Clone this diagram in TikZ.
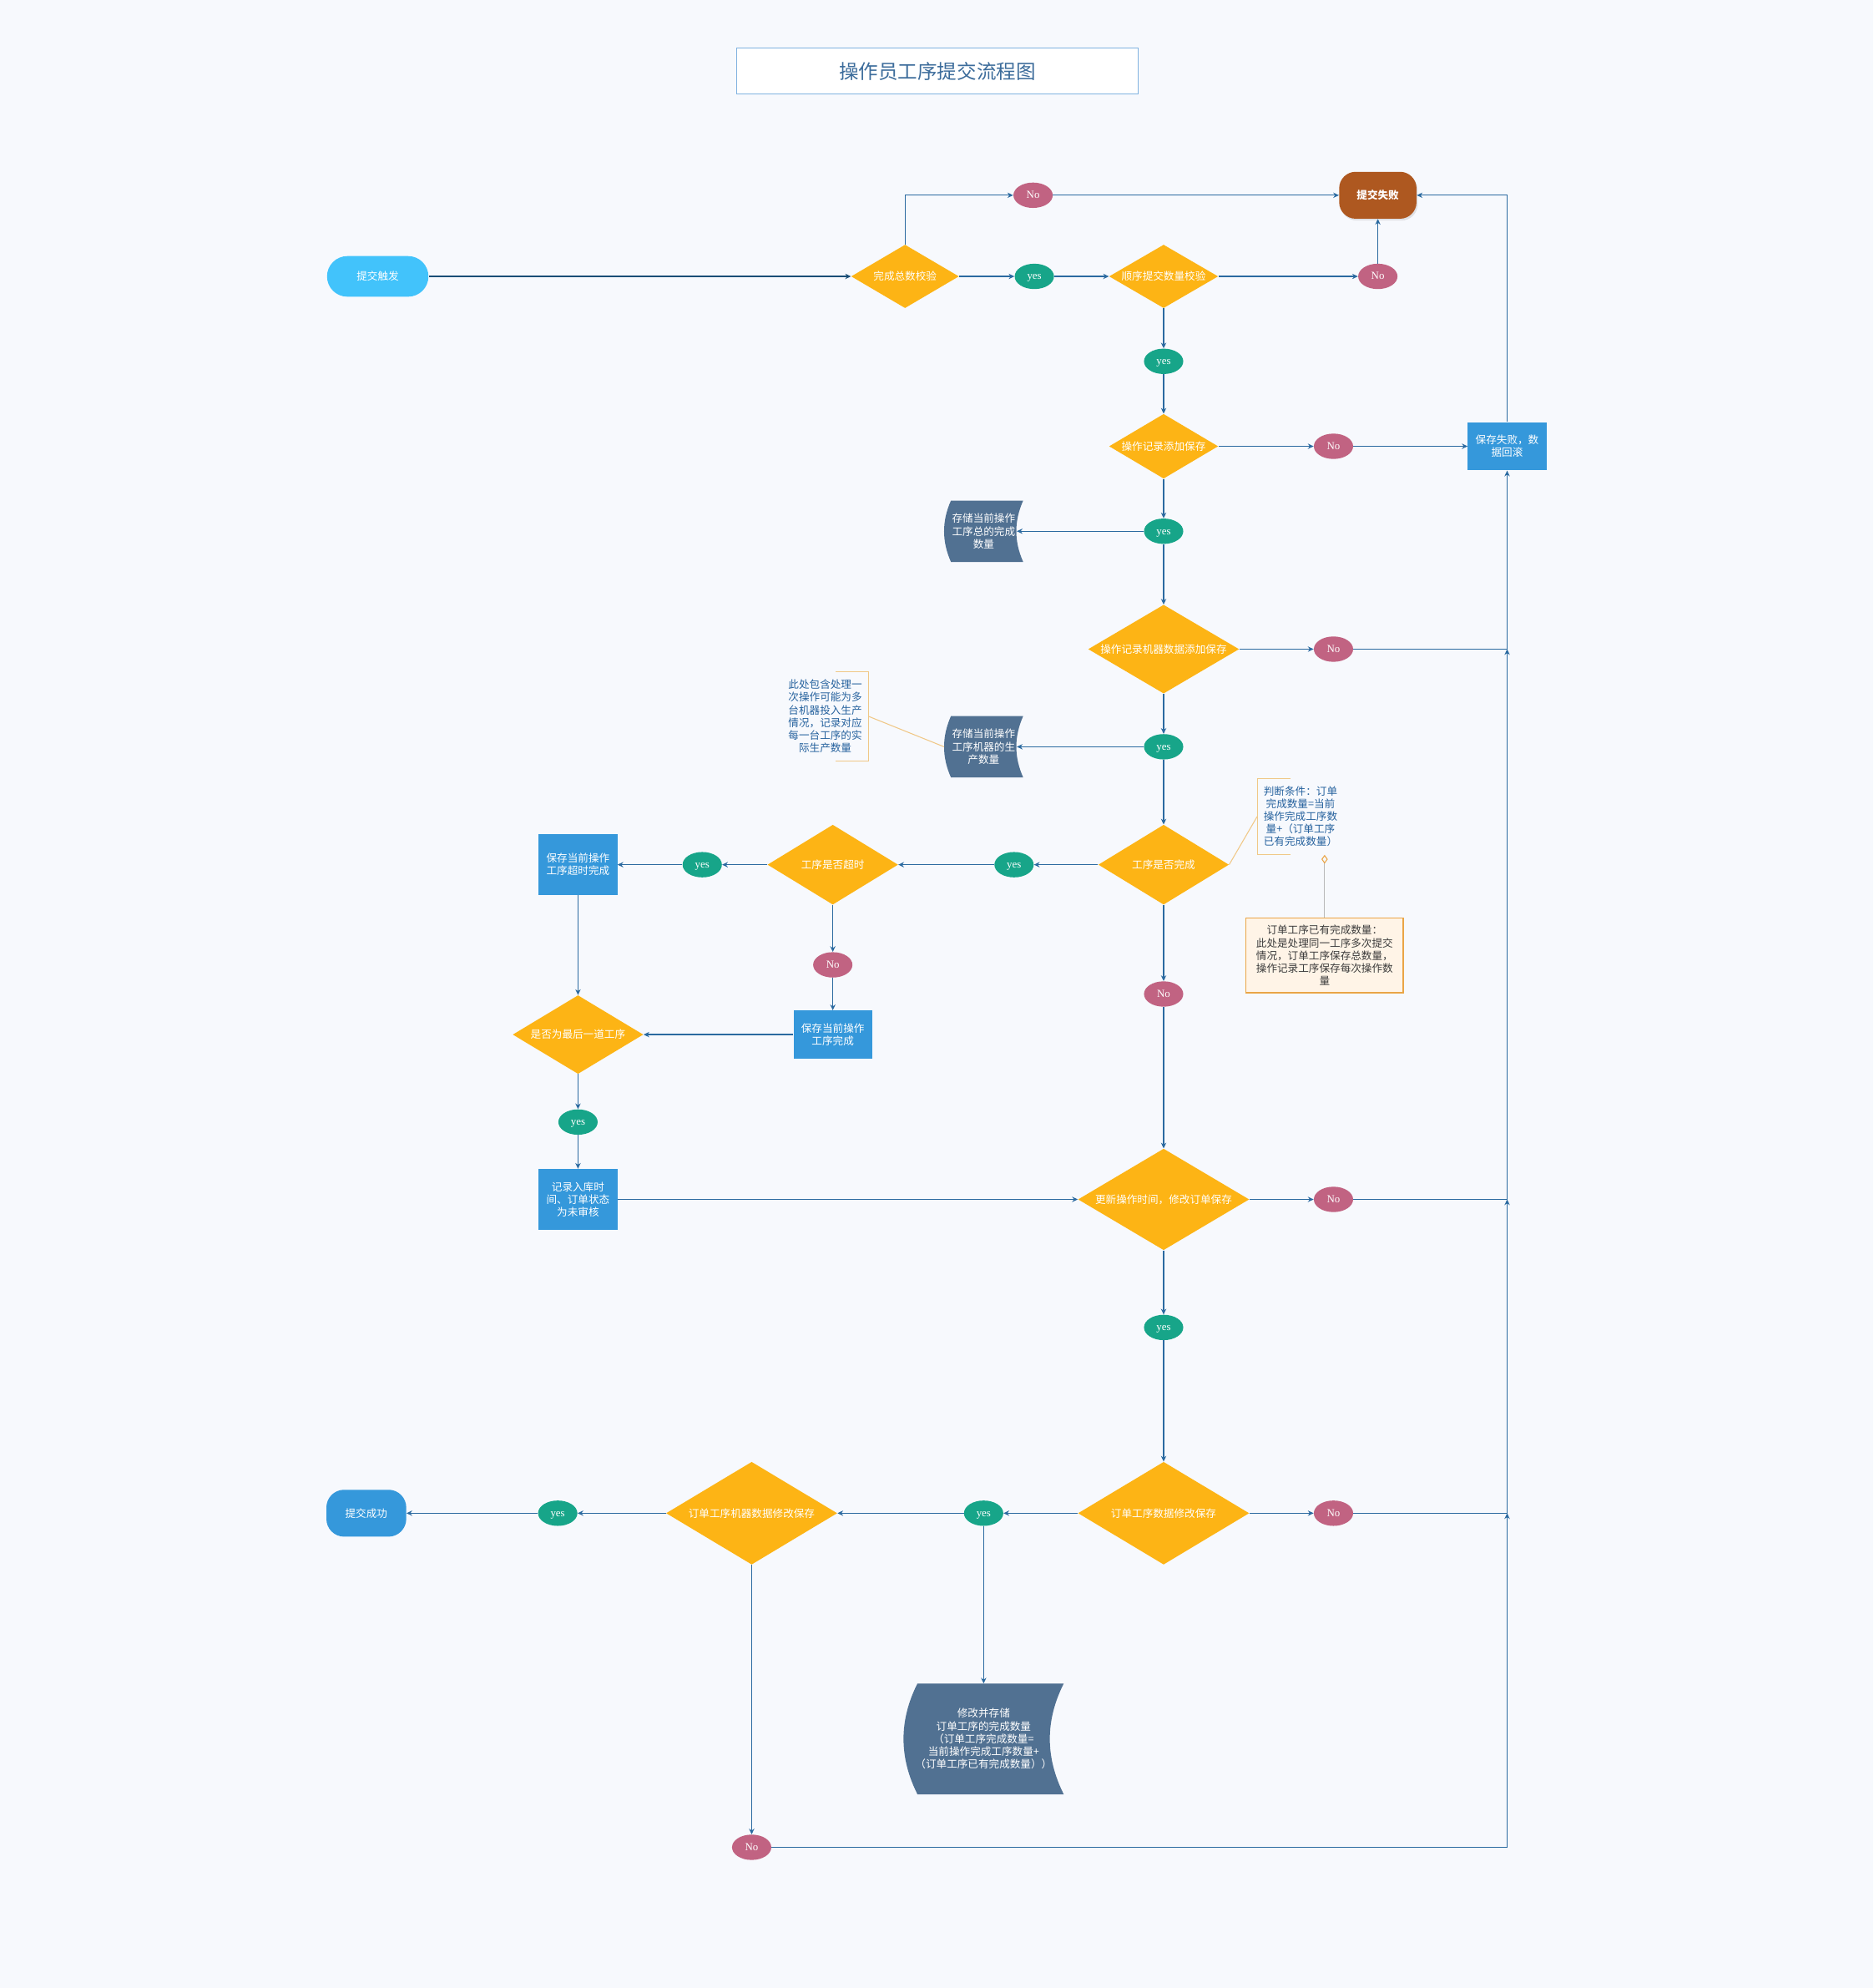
\documentclass[tikz,border=0pt]{standalone}
\usepackage{fontspec}
\setmainfont{Noto Sans CJK SC}
\newfontfamily\latinfont{Liberation Serif}
\usepackage{tikz}
\usetikzlibrary{shapes.geometric,arrows.meta,backgrounds,shadows,calc}
\tikzset{
  ftitle/.style={rectangle, draw=titleline, fill=white, line width=0.8pt, minimum width=317pt, minimum height=36pt, text=titletext, font=\fontsize{15.5}{18}\selectfont},
  fterm/.style={rectangle, rounded corners=16pt, fill=startblue, text=white, minimum width=80pt, minimum height=32pt, inner sep=0pt, font=\fontsize{8.3}{10}\selectfont},
  fdec/.style={diamond, aspect=1.7, fill=decyellow, text=white, inner sep=0pt, font=\fontsize{8.3}{10}\selectfont},
  fyes/.style={ellipse, fill=yesgreen, text=white, minimum width=31pt, minimum height=20pt, inner sep=0pt, text height=5.6pt, text depth=0.6pt, font=\latinfont\fontsize{8.5}{10}\selectfont},
  fno/.style={fyes, fill=nored},
  fbox/.style={rectangle, fill=boxblue, text=white, minimum width=62pt, inner sep=1pt, align=center, font=\fontsize{8.3}{10}\selectfont},
  fstore/.style={rectangle, minimum width=62pt, minimum height=48pt, inner sep=1pt, align=center, text=white, font=\fontsize{8.3}{10}\selectfont},
  fnote/.style={rectangle, text width=62pt, inner xsep=3pt, inner ysep=0pt, align=center, text=notetext, font=\fontsize{8.3}{10}\selectfont},
  farrow/.style={-{Stealth[length=4.5pt,width=4.2pt]}, line width=0.8pt, draw=linkblue},
  nline/.style={line width=0.7pt, draw=notetan}
}
\definecolor{bgpage}{RGB}{247,249,253}
\definecolor{titleline}{RGB}{128,178,224}
\definecolor{titletext}{RGB}{60,108,155}
\definecolor{startblue}{RGB}{66,195,251}
\definecolor{decyellow}{RGB}{253,180,21}
\definecolor{yesgreen}{RGB}{23,165,137}
\definecolor{nored}{RGB}{193,99,130}
\definecolor{boxblue}{RGB}{53,152,219}
\definecolor{storeblue}{RGB}{81,113,146}
\definecolor{failbrown}{RGB}{174,88,32}
\definecolor{linkblue}{RGB}{43,106,160}
\definecolor{linkdark}{RGB}{26,78,118}
\definecolor{notetan}{RGB}{240,200,135}
\definecolor{notetext}{RGB}{38,98,158}
\definecolor{notefill}{RGB}{255,244,231}
\definecolor{noteorange}{RGB}{234,165,70}
\definecolor{notegray}{RGB}{60,60,60}

\begin{document}
\begin{tikzpicture}[x=1pt,y=-1pt]
\useasboundingbox (0,0) rectangle (1478,1568);
\node[ftitle] (title) at (739.5,56) {操作员工序提交流程图};
\node[fterm] (start) at (298,218) {提交触发};
\node[fdec, minimum width=85pt, minimum height=50pt] (check1) at (714,218) {完成总数校验};
\node[fyes] (yes1) at (816,218) {yes};
\node[fdec, minimum width=86pt, minimum height=50pt] (check2) at (918,218) {顺序提交数量校验};
\node[fno] (no2) at (1087,218) {No};
\node[fterm, fill=failbrown, rounded corners=13pt, minimum width=61pt, minimum height=37pt, font=\fontsize{8.3}{10}\selectfont\bfseries, drop shadow={opacity=0.2, shadow xshift=1pt, shadow yshift=-1.5pt}] (fail) at (1087,154) {提交失败};
\node[fno] (noTop) at (815,154) {No};
\node[fyes] (yes2) at (918,285) {yes};
\node[fdec, minimum width=86pt, minimum height=51pt] (save1) at (918,352) {操作记录添加保存};
\node[fno] (no3) at (1052,352) {No};
\node[fbox, minimum height=38pt] (rollback) at (1189,352) {保存失败，数\\据回滚};
\node[fyes] (yes3) at (918,419) {yes};
\node[fstore] (store1) at (776,419) {存储当前操作\\工序总的完成\\数量};
\node[fdec, minimum width=119pt, minimum height=70pt] (save2) at (918,512) {操作记录机器数据添加保存};
\node[fno] (no4) at (1052,512) {No};
\node[fyes] (yes4) at (918,589) {yes};
\node[fstore] (store2) at (776,589) {存储当前操作\\工序机器的生\\产数量};
\node[fnote, minimum height=70pt] (note1) at (651,565) {此处包含处理一\\次操作可能为多\\台机器投入生产\\情况，记录对应\\每一台工序的实\\际生产数量};
\node[fdec, minimum width=103pt, minimum height=63pt] (done) at (918,682) {工序是否完成};
\node[fnote, minimum height=60pt] (note2) at (1026,644) {判断条件：订单\\完成数量=当前\\操作完成工序数\\量+（订单工序\\已有完成数量）};
\node[fnote, draw=noteorange, fill=notefill, text=notegray, line width=0.8pt, text width=118pt, minimum height=59pt] (note3) at (1045,753.5) {订单工序已有完成数量：\\此处是处理同一工序多次提交\\情况，订单工序保存总数量，\\操作记录工序保存每次操作数\\量};
\node[fyes] (yes5) at (800,682) {yes};
\node[fdec, minimum width=103pt, minimum height=63pt] (timeout) at (657,682) {工序是否超时};
\node[fyes] (yes6) at (554,682) {yes};
\node[fbox, minimum height=48pt] (boxTimeout) at (456,682) {保存当前操作\\工序超时完成};
\node[fno] (no5) at (657,761) {No};
\node[fbox, minimum height=38pt] (boxDone) at (657,816) {保存当前操作\\工序完成};
\node[fdec, minimum width=103pt, minimum height=62pt] (last) at (456,816) {是否为最后一道工序};
\node[fyes] (yes7) at (456,885) {yes};
\node[fbox, minimum height=48pt] (boxRecord) at (456,946) {记录入库时\\间、订单状态\\为未审核};
\node[fno] (no6) at (918,784) {No};
\node[fdec, minimum width=135pt, minimum height=80pt] (update) at (918,946) {更新操作时间，修改订单保存};
\node[fno] (no7) at (1052,946) {No};
\node[fyes] (yes8) at (918,1047) {yes};
\node[fdec, minimum width=135pt, minimum height=81pt] (orderSave) at (918,1193.5) {订单工序数据修改保存};
\node[fno] (no8) at (1052,1193.5) {No};
\node[fyes] (yes9) at (776,1193.5) {yes};
\node[fdec, minimum width=135pt, minimum height=81pt] (machineSave) at (593,1193.5) {订单工序机器数据修改保存};
\node[fyes] (yes10) at (440,1193.5) {yes};
\node[fterm, fill=boxblue, rounded corners=14pt, minimum width=63pt, minimum height=37pt] (success) at (289,1193.5) {提交成功};
\node[fstore, minimum width=126pt, minimum height=87pt] (store3) at (776,1371.5) {修改并存储\\订单工序的完成数量\\（订单工序完成数量=\\当前操作完成工序数量+\\（订单工序已有完成数量））};
\node[fno] (noB) at (593,1457) {No};
\coordinate (j1) at (rollback |- no4);
\coordinate (j2) at (rollback |- no7);
\coordinate (j3) at (rollback |- no8);
\coordinate (j4) at (rollback |- noB);
\draw[farrow, draw=linkdark, line width=1.2pt] (start) -- (check1);
\draw[farrow] (check1) -- (yes1);
\draw[farrow] (yes1) -- (check2);
\draw[farrow] (check1.north) |- (noTop);
\draw[farrow] (noTop) -- (fail);
\draw[farrow] (check2) -- (no2);
\draw[farrow] (no2) -- (fail);
\draw[farrow] (rollback.north) |- (fail.east);
\draw[farrow] (check2) -- (yes2);
\draw[farrow] (yes2) -- (save1);
\draw[farrow] (save1) -- (no3);
\draw[farrow] (no3) -- (rollback);
\draw[farrow] (save1) -- (yes3);
\draw[farrow] (yes3) -- ([xshift=-5pt]store1.east);
\draw[farrow] (yes3) -- (save2);
\draw[farrow] (save2) -- (no4);
\draw[farrow] (no4) -- (j1) -- (rollback.south);
\draw[farrow] (save2) -- (yes4);
\draw[farrow] (yes4) -- ([xshift=-5pt]store2.east);
\draw[farrow] (yes4) -- (done);
\draw[farrow] (done) -- (yes5);
\draw[farrow] (yes5) -- (timeout);
\draw[farrow] (timeout) -- (yes6);
\draw[farrow] (yes6) -- (boxTimeout);
\draw[farrow] (timeout) -- (no5);
\draw[farrow] (no5) -- (boxDone);
\draw[farrow] (boxDone) -- (last);
\draw[farrow] (boxTimeout) -- (last);
\draw[farrow] (last) -- (yes7);
\draw[farrow] (yes7) -- (boxRecord);
\draw[farrow] (boxRecord) -- (update);
\draw[farrow] (done) -- (no6);
\draw[farrow] (no6) -- (update);
\draw[farrow] (update) -- (no7);
\draw[farrow] (no7) -- (j2) -- (j1);
\draw[farrow] (update) -- (yes8);
\draw[farrow] (yes8) -- (orderSave);
\draw[farrow] (orderSave) -- (no8);
\draw[farrow] (no8) -- (j3) -- (j2);
\draw[farrow] (orderSave) -- (yes9);
\draw[farrow] (yes9) -- (machineSave);
\draw[farrow] (yes9) -- (store3);
\draw[farrow] (machineSave) -- (yes10);
\draw[farrow] (yes10) -- (success);
\draw[farrow] (machineSave) -- (noB);
\draw[farrow] (noB) -- (j4) -- (j3);
\draw[nline] ([xshift=-26pt]note1.north east) -- (note1.north east) -- (note1.south east) -- ([xshift=-26pt]note1.south east);
\draw[nline] (note1.east) -- (store2.west);
\draw[nline] ([xshift=26pt]note2.north west) -- (note2.north west) -- (note2.south west) -- ([xshift=26pt]note2.south west);
\draw[nline] (done.east) -- (note2.west);
\draw[line width=0.7pt, draw=gray!55, -{Diamond[open, length=7pt, width=5pt, color=noteorange]}] (note3.north) -- (note3.north |- note2.south);
\begin{scope}[on background layer]
\fill[bgpage] (0,0) rectangle (1478,1568);
\foreach \s in {store1,store2,store3}{
  \fill[storeblue] let \p1=(\s.north west), \p2=(\s.south east), \n1={0.087*(\x2-\x1)}, \n2={(\y1-\y2)/3} in
    (\x1+\n1,\y1) -- (\x2,\y1) .. controls (\x2-4*\n1/3,\y1-\n2) and (\x2-4*\n1/3,\y2+\n2) .. (\x2,\y2)
    -- (\x1+\n1,\y2) .. controls (\x1-\n1/3,\y2+\n2) and (\x1-\n1/3,\y1-\n2) .. cycle;
}
\end{scope}
\end{tikzpicture}
\end{document}
